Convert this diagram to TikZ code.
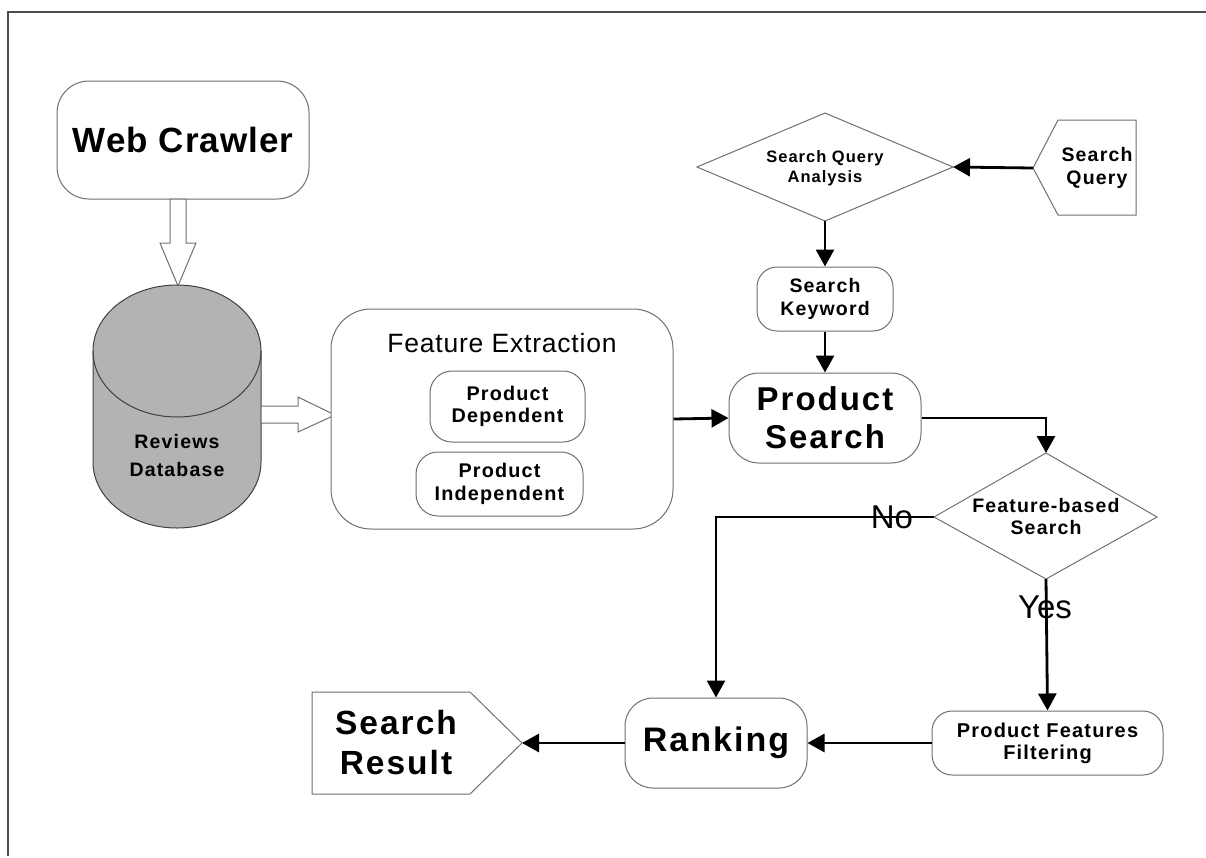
\documentclass[tikz,border=0pt]{standalone}
\usepackage{fontspec}
\setmainfont{Liberation Sans}
\usetikzlibrary{arrows.meta}
\definecolor{outl}{HTML}{707070}
\definecolor{dbgray}{HTML}{B3B3B3}
\newcommand{\bfs}[2]{\fontsize{#1}{#2}\selectfont\bfseries\addfontfeatures{LetterSpace=6}}
\tikzset{
  box/.style={draw=outl, line width=1pt, fill=white, align=center, inner sep=0pt},
  shapeline/.style={draw=outl, line width=1pt, fill=white},
  txt/.style={align=center, inner sep=0pt},
  arr/.style={line width=2.8pt, -{Triangle[length=17pt,width=18pt]}},
  hollow/.style={draw=outl, line width=1pt, fill=white},
  lbl/.style={font=\fontsize{33}{36}\selectfont, inner sep=0pt},
}
\begin{document}
\begin{tikzpicture}[x=1pt,y=-1pt]
\useasboundingbox (0,0) rectangle (1206,857);
% page frame
\draw[draw=black!70, line width=1.2pt] (1206,12) -- (8,12) -- (8,856);

% Web crawler
\node[box, rounded corners=32pt, minimum width=252pt, minimum height=118pt,
  font=\fontsize{35}{40}\selectfont\bfseries\addfontfeatures{LetterSpace=3}] (wc) at (183,140)
  {Web Crawler};

% hollow arrow down
\draw[hollow] (170,199) -- (186,199) -- (186,243) -- (196,243) -- (178,286) -- (160,243) -- (170,243) -- cycle;

% database cylinder
\fill[dbgray] (93,351) -- (93,462) arc[start angle=180, end angle=0, x radius=84, y radius=66]
  -- (261,351) arc[start angle=0, end angle=-180, x radius=84, y radius=66] -- cycle;
\draw[black!75, line width=1pt] (93,351) -- (93,462) arc[start angle=180, end angle=0, x radius=84, y radius=66]
  -- (261,351) arc[start angle=0, end angle=-180, x radius=84, y radius=66] -- cycle;
\draw[black!75, line width=1pt] (93,351) arc[start angle=180, end angle=0, x radius=84, y radius=66];
\node[txt, font=\bfs{19.5}{28}] (db) at (177,456) {Reviews\\Database};

% hollow arrow right
\draw[hollow] (261,406) -- (298,406) -- (298,397) -- (335,415) -- (298,432) -- (298,423) -- (261,423) -- cycle;

% Feature extraction
\node[box, rounded corners=40pt, minimum width=342pt, minimum height=220pt] (fe) at (502,419) {};
\node[inner sep=0pt, font=\fontsize{26.5}{30}\selectfont\addfontfeatures{LetterSpace=3}] (fet) at (502,343) {Feature Extraction};
\node[box, rounded corners=22pt, minimum width=155pt, minimum height=71pt, font=\bfs{19.8}{22.5}] (pd) at (507.5,406.5)
  {Product\\Dependent};
\node[box, rounded corners=22pt, minimum width=167pt, minimum height=64pt, font=\bfs{19.8}{23}] (pi) at (499.5,484)
  {Product\\Independent};

% Search query analysis (diamond)
\coordinate (sqaW) at (697,167);
\coordinate (sqaN) at (825,113);
\coordinate (sqaE) at (953,167);
\coordinate (sqaS) at (825,221);
\draw[shapeline] (sqaW) -- (sqaN) -- (sqaE) -- (sqaS) -- cycle;
\node[txt, font=\bfs{16.5}{20}] (sqa) at (825,168) {Search Query\\Analysis};

% Search query (input shape)
\coordinate (sqtip) at (1033,168);
\draw[shapeline] (sqtip) -- (1058,120) -- (1136,120) -- (1136,215) -- (1058,215) -- cycle;
\node[txt, font=\bfs{19.5}{23}] (sq) at (1097,168) {Search\\Query};

\node[box, rounded corners=20pt, minimum width=136pt, minimum height=64pt, font=\bfs{19.5}{23}] (sk) at (825,299)
  {Search\\Keyword};

\node[box, rounded corners=30pt, minimum width=192pt, minimum height=90pt, font=\bfs{33}{38}] (ps) at (825,418)
  {Product\\Search};

% Feature-based search (diamond)
\coordinate (fbsW) at (934,517);
\coordinate (fbsN) at (1046,453);
\coordinate (fbsE) at (1157,517);
\coordinate (fbsS) at (1046,579);
\draw[shapeline] (fbsW) -- (fbsN) -- (fbsE) -- (fbsS) -- cycle;
\node[txt, font=\bfs{19.5}{22}] (fbs) at (1046,517) {Feature-based\\Search};

\node[box, rounded corners=20pt, minimum width=231pt, minimum height=64pt, font=\bfs{20}{22}] (pff) at (1047.5,743)
  {Product Features\\Filtering};

\node[box, rounded corners=28pt, minimum width=182pt, minimum height=90pt, font=\bfs{34}{38}] (rk) at (716,743)
  {Ranking};

% Search result
\coordinate (srtip) at (522,743);
\draw[shapeline] (312,692) -- (470,692) -- (srtip) -- (470,794) -- (312,794) -- cycle;
\node[txt, font=\bfs{33.5}{40}] (sr) at (396,743) {Search\\Result};

% connectors
\draw[arr] (sqtip) -- (sqaE);
\draw[arr] (sqaS) -- (sk.north);
\draw[arr] (sk.south) -- (ps.north);
\draw[arr] (fe.east) -- (ps.west);
\draw[arr] (ps.east) -| (fbsN);
\draw[arr] (fbsW) -| (rk.north);
\draw[arr] (fbsS) -- (pff.north);
\draw[arr] (pff.west) -- (rk.east);
\draw[arr] (rk.west) -- (srtip);

\node[lbl] (no) at (892,517) {No};
\node[lbl] (yes) at (1045,607) {Yes};
\end{tikzpicture}
\end{document}
